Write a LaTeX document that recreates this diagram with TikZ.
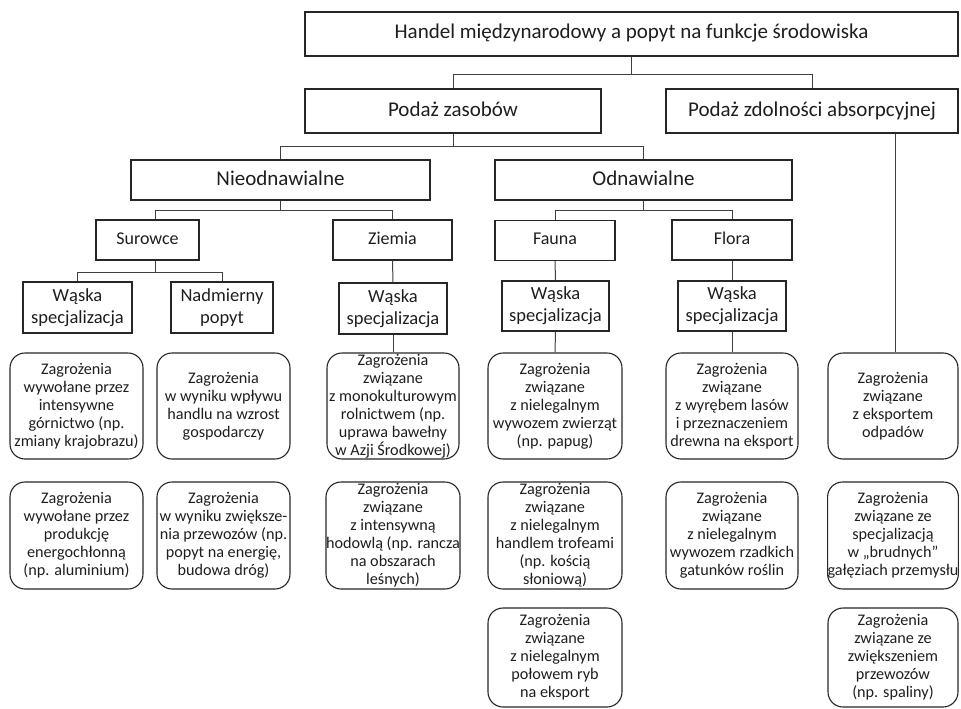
\documentclass[tikz,border=0pt]{standalone}
\usepackage{fontspec}
\setmainfont{Carlito}
\definecolor{linec}{HTML}{262626}
\definecolor{connc}{HTML}{404040}
\definecolor{txt}{HTML}{1E1E1E}
\tikzset{
  lvl/.style={draw=linec, line width=1.1pt, rectangle, inner sep=0pt, align=center, text=txt},
  big/.style={font=\fontsize{21}{24}\selectfont, text height=15pt, text depth=5pt},
  mid/.style={font=\fontsize{18}{21.7}\selectfont, text height=13pt, text depth=4.5pt},
  midtwo/.style={font=\fontsize{18.5}{21.7}\selectfont},
  thr/.style={draw=linec, line width=1.1pt, rectangle, rounded corners=15pt, inner sep=0pt, align=center, text=txt, font=\fontsize{16.2}{18}\selectfont},
  conn/.style={draw=connc, line width=1pt},
}
\begin{document}
\begin{tikzpicture}[x=1pt,y=-1pt]
\useasboundingbox (0,0) rectangle (961,709);
% level 0
\node[lvl,big,minimum width=653pt,minimum height=44pt] (top) at (631.5,34) {Handel międzynarodowy a popyt na funkcje środowiska};
% level 1
\node[lvl,big,minimum width=296pt,minimum height=44pt] (pz) at (453,111) {Podaż zasobów};
\node[lvl,big,minimum width=292pt,minimum height=44pt] (pa) at (812,111) {Podaż zdolności absorpcyjnej};
% level 2
\node[lvl,big,minimum width=299pt,minimum height=40pt] (nieo) at (280.5,180) {Nieodnawialne};
\node[lvl,big,minimum width=297pt,minimum height=40pt] (odn) at (643.5,180) {Odnawialne};
% level 3
\node[lvl,mid,minimum width=103pt,minimum height=40pt] (sur) at (147.5,240) {Surowce};
\node[lvl,mid,minimum width=119pt,minimum height=40pt] (ziem) at (392.5,240) {Ziemia};
\node[lvl,mid,minimum width=120pt,minimum height=40pt] (fauna) at (555,240.5) {Fauna};
\node[lvl,mid,minimum width=120pt,minimum height=40pt] (flora) at (732,240) {Flora};
% level 4
\node[lvl,midtwo,minimum width=109pt,minimum height=51pt] (w1) at (77.5,307.5) {Wąska\\specjalizacja};
\node[lvl,midtwo,minimum width=102pt,minimum height=51pt] (nad) at (222,307.5) {Nadmierny\\popyt};
\node[lvl,midtwo,minimum width=108pt,minimum height=51pt] (w2) at (393,308.5) {Wąska\\specjalizacja};
\node[lvl,midtwo,minimum width=107pt,minimum height=50pt] (w3) at (555.5,306) {Wąska\\specjalizacja};
\node[lvl,midtwo,minimum width=108pt,minimum height=50pt] (w4) at (732,306) {Wąska\\specjalizacja};
% threats row 1
\node[thr,minimum width=133pt,minimum height=106pt] (r11) at (76.5,406) {Zagrożenia\\wywołane przez\\intensywne\\górnictwo (np.\\zmiany krajobrazu)};
\node[thr,minimum width=133pt,minimum height=106pt] (r12) at (223.5,406) {Zagrożenia\\w wyniku wpływu\\handlu na wzrost\\gospodarczy};
\node[thr,minimum width=132pt,minimum height=106pt] (r13) at (393,406) {Zagrożenia\\związane\\z monokulturowym\\rolnictwem (np.\\uprawa bawełny\\w Azji Środkowej)};
\node[thr,minimum width=134pt,minimum height=106pt] (r14) at (555,406) {Zagrożenia\\związane\\z nielegalnym\\wywozem zwierząt\\(np. papug)};
\node[thr,minimum width=132pt,minimum height=106pt] (r15) at (732,406) {Zagrożenia\\związane\\z wyrębem lasów\\i przeznaczeniem\\drewna na eksport};
\node[thr,minimum width=130pt,minimum height=106pt] (r16) at (893,406) {Zagrożenia\\związane\\z eksportem\\odpadów};
% threats row 2
\node[thr,minimum width=133pt,minimum height=107pt] (r21) at (76.5,535.5) {Zagrożenia\\wywołane przez\\produkcję\\energochłonną\\(np. aluminium)};
\node[thr,minimum width=133pt,minimum height=107pt] (r22) at (223.5,535.5) {Zagrożenia\\w wyniku zwiększe-\\nia przewozów (np.\\popyt na energię,\\budowa dróg)};
\node[thr,minimum width=132pt,minimum height=107pt] (r23) at (393,535.5) {Zagrożenia\\związane\\z intensywną\\hodowlą (np. rancza\\na obszarach\\leśnych)};
\node[thr,minimum width=134pt,minimum height=107pt] (r24) at (555,535.5) {Zagrożenia\\związane\\z nielegalnym\\handlem trofeami\\(np. kością\\słoniową)};
\node[thr,minimum width=132pt,minimum height=107pt] (r25) at (732,535.5) {Zagrożenia\\związane\\z nielegalnym\\wywozem rzadkich\\gatunków roślin};
\node[thr,minimum width=130pt,minimum height=107pt] (r26) at (893,535.5) {Zagrożenia\\związane ze\\specjalizacją\\w „brudnych”\\gałęziach przemysłu};
% threats row 3
\node[thr,minimum width=134pt,minimum height=99pt] (r34) at (555,657.5) {Zagrożenia\\związane\\z nielegalnym\\połowem ryb\\na eksport};
\node[thr,minimum width=130pt,minimum height=99pt] (r36) at (893,657.5) {Zagrożenia\\związane ze\\zwiększeniem\\przewozów\\(np. spaliny)};
% connectors
\draw[conn] (top.south) -- ++(0,18) -| (pz.north);
\draw[conn] (top.south) -- ++(0,18) -| (pa.north);
\draw[conn] (pz.south) -- ++(0,13) -| (nieo.north);
\draw[conn] (pz.south) -- ++(0,13) -| (odn.north);
\coordinate (surN) at ([xshift=7.5pt]sur.north);
\coordinate (surS) at ([xshift=7.5pt]sur.south);
\draw[conn] (nieo.south) -- ++(0,10) -| (surN);
\draw[conn] (nieo.south) -- ++(0,10) -| (ziem.north);
\draw[conn] (surS) -- ++(0,12) -| (w1.north);
\draw[conn] (surS) -- ++(0,12) -| (nad.north);
\draw[conn] (ziem.south) -- (w2.north);
\draw[conn] (w2.south) -- (r13.north);
\draw[conn] (odn.south) -- ++(0,10) -| (fauna.north);
\draw[conn] (odn.south) -- ++(0,10) -| (flora.north);
\draw[conn] (fauna.south) -- (w3.north);
\draw[conn] (w3.south) -- (r14.north);
\draw[conn] (flora.south) -- (w4.north);
\draw[conn] (w4.south) -- (r15.north);
\draw[conn] ([xshift=2pt]r16.north |- pa.south) -- ([xshift=2pt]r16.north);
\end{tikzpicture}
\end{document}
